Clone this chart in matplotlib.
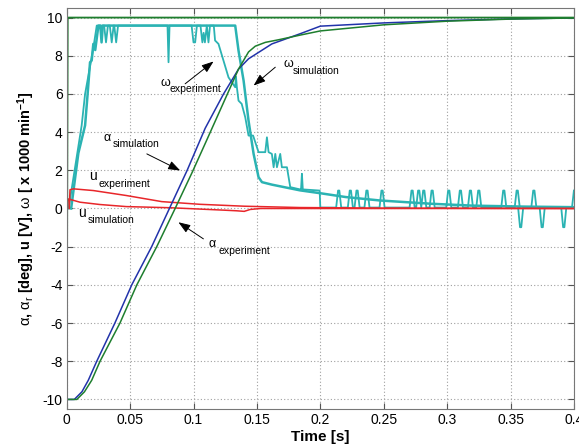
import matplotlib.pyplot as plt

plt.rcParams['font.family'] = ['Liberation Sans', 'DejaVu Sans']
plt.rcParams['axes.unicode_minus'] = False
plt.rcParams['mathtext.fontset'] = 'custom'
plt.rcParams['mathtext.rm'] = 'Liberation Sans'
plt.rcParams['mathtext.bf'] = 'Liberation Sans:bold'
plt.rcParams['mathtext.it'] = 'Liberation Sans:italic'

# reference angle (step)
t_ref = [0, 0.0008, 0.4]
alpha_ref = [-10, 10, 10]

# angle, simulation (blue) and experiment (green)
t_alpha_sim = [0, 0.006, 0.012, 0.017, 0.0237, 0.038, 0.0513, 0.067, 0.081, 0.095, 0.1092,
               0.1237, 0.1355, 0.1434, 0.1618, 0.184, 0.2, 0.25, 0.3, 0.35, 0.4]
alpha_sim = [-10, -10, -9.6, -9.0, -8, -6, -4, -2, 0, 2.0, 4.2,
             6.0, 7.3, 7.84, 8.62, 9.15, 9.55, 9.72, 9.84, 9.93, 9.98]
t_alpha_exp = [0, 0.008, 0.014, 0.0197, 0.0263, 0.042, 0.0553, 0.071, 0.0855, 0.099, 0.1092,
               0.12, 0.1355, 0.1434, 0.1487, 0.1566, 0.168, 0.184, 0.2, 0.25, 0.3, 0.35, 0.4]
alpha_exp = [-10, -10, -9.6, -9, -8, -6, -4, -2, 0, 1.9, 3.4,
             5.0, 7.3, 8.2, 8.5, 8.7, 8.85, 9.08, 9.3, 9.62, 9.81, 9.92, 9.98]

# control voltage
t_u_exp = [0.002, 0.0026, 0.0052, 0.021, 0.047, 0.075, 0.105, 0.14, 0.184, 0.25, 0.4]
u_exp = [0, 0.98, 1.03, 0.94, 0.68, 0.36, 0.22, 0.12, 0.05, 0.02, 0.0]
t_u_sim = [0.0005, 0.0013, 0.0105, 0.026, 0.047, 0.0816, 0.105, 0.125, 0.134, 0.14, 0.1447, 0.153, 0.4]
u_sim = [0, 0.5, 0.33, 0.21, 0.10, 0.04, -0.03, -0.09, -0.12, -0.15, -0.05, 0.0, 0.0]

# speed, quantised measurement
t_w_a = [0.0015, 0.0118, 0.0145, 0.021, 0.0237, 0.0295, 0.031, 0.0325, 0.034, 0.0355, 0.037,
         0.0375, 0.039, 0.0405, 0.0795, 0.0803, 0.0811, 0.0985, 0.1, 0.1013, 0.1027,
         0.1055, 0.107, 0.108, 0.109, 0.1105, 0.1118, 0.113, 0.116, 0.117, 0.1197,
         0.1276, 0.1329, 0.1335, 0.1342, 0.1355, 0.138, 0.1408, 0.1434, 0.147, 0.1513,
         0.1566, 0.1579, 0.1592, 0.1618, 0.1632, 0.1645, 0.1658, 0.1684, 0.1697, 0.1737,
         0.1763, 0.184, 0.1848, 0.1855, 0.1862, 0.1995, 0.2]
w_a = [0, 4.35, 6.0, 8.4, 9.58, 9.58, 8.7, 9.58, 9.58, 8.7, 9.58,
       9.58, 8.7, 9.58, 9.58, 7.66, 9.58, 9.58, 8.7, 8.7, 9.58,
       9.58, 8.7, 9.2, 8.7, 9.58, 8.7, 9.58, 9.58, 8.8, 8.62,
       6.87, 6.35, 6.9, 6.35, 5.65, 5.48, 4.78, 3.82, 3.82, 2.95,
       2.95, 3.73, 2.95, 2.86, 2.16, 2.86, 2.16, 2.86, 2.16, 2.16,
       1.12, 1.0, 1.0, 1.82, 1.0, 0.94, 0.05]
# spikes of the quantised signal after it settles
spike_t = [0.2145, 0.2237, 0.229, 0.2368, 0.2487, 0.2724, 0.2776, 0.2816, 0.2882, 0.3013,
           0.3105, 0.3184, 0.325, 0.3447, 0.3553, 0.358, 0.3684, 0.375, 0.392]
spike_w = [0.94, 0.94, 0.94, 0.94, 0.94, 0.94, 0.94, 0.94, 0.94, 0.94,
           0.94, 0.94, 0.94, 0.94, 0.94, -0.98, 0.94, -0.98, -0.98]

# speed, smoother curve
t_w_b = [0.0035, 0.0092, 0.0145, 0.0165, 0.0184, 0.0197, 0.021, 0.0225, 0.025, 0.0265,
         0.0275, 0.0285, 0.1329, 0.1355, 0.1395, 0.1434, 0.1474, 0.1513, 0.154, 0.1618,
         0.184, 0.2, 0.22, 0.247, 0.287, 0.32, 0.36, 0.4]
w_b = [0, 2.9, 4.35, 6.0, 7.66, 7.75, 8.62, 8.3, 9.58, 9.58,
       8.7, 9.58, 9.58, 8.27, 6.7, 4.6, 2.86, 1.64, 1.38, 1.25,
       0.95, 0.8, 0.6, 0.42, 0.25, 0.15, 0.1, 0.07]

x_ticks = [0, 0.05, 0.1, 0.15, 0.2, 0.25, 0.3, 0.35, 0.4]
x_labels = ['0', '0.05', '0.1', '0.15', '0.2', '0.25', '0.3', '0.35', '0.4']
y_ticks = [-10, -8, -6, -4, -2, 0, 2, 4, 6, 8, 10]

# build the tail of the quantised signal with its spikes
t_tail, w_tail = [0.2], [0.05]
for c, h in zip(spike_t, spike_w):
    t_tail += [c - 0.002, c - 0.0005, c + 0.0005, c + 0.002]
    w_tail += [0.05, h, h, 0.05]
t_tail += [0.3985, 0.4]
w_tail += [0.05, 0.94]

cyan = '#2bb3b3'
fig = plt.figure(figsize=(5.79, 4.48), dpi=100)
ax = fig.add_axes([0.1152, 0.0871, 0.876, 0.895])

ax.plot(t_w_b, w_b, color=cyan, lw=1.8)
ax.plot(t_w_a + t_tail, w_a + w_tail, color=cyan, lw=1.3)
ax.plot(t_u_sim, u_sim, color='#e8262a', lw=1.1)
ax.plot(t_u_exp, u_exp, color='#e8262a', lw=1.1)
ax.plot(t_alpha_sim, alpha_sim, color='#2233aa', lw=1.1)
ax.plot(t_alpha_exp, alpha_exp, color='#1e7e2e', lw=1.1)
ax.plot(t_ref, alpha_ref, color='#1e7e2e', lw=1.3)

ax.set_xlim(0, 0.4)
ax.set_ylim(-10.5, 10.5)
ax.set_xticks(x_ticks)
ax.set_xticklabels(x_labels)
ax.set_yticks(y_ticks)
ax.grid(True, linestyle=(0, (1, 2)), color='#a0a0a0', linewidth=0.8)
ax.tick_params(direction='in', top=True, right=True, length=4, labelsize=10,
               color='#555555', pad=3)
for s in ax.spines.values():
    s.set_color('#777777')


def sub_label(x, y, main, sub, size):
    ax.text(x, y, main, fontsize=size, ha='left', va='baseline')
    ax.annotate(sub, xy=(x, y), xytext=(7, -5), textcoords='offset points',
                fontsize=7.5, ha='left', va='baseline')


arrow = dict(arrowstyle='-|>,head_length=0.6,head_width=0.22', color='black',
             lw=0.7, mutation_scale=12, shrinkA=0, shrinkB=0)

sub_label(0.0737, 6.44, 'ω', 'experiment', 9)
sub_label(0.1708, 7.43, 'ω', 'simulation', 9)
sub_label(0.0289, 3.56, 'α', 'simulation', 9)
sub_label(0.0178, 1.47, 'u', 'experiment', 10)
sub_label(0.0092, -0.42, 'u', 'simulation', 10)
sub_label(0.1118, -2.03, 'α', 'experiment', 9)

ax.annotate('', xy=(0.1158, 7.70), xytext=(0.0934, 6.53), arrowprops=arrow)
ax.annotate('', xy=(0.1474, 6.44), xytext=(0.1645, 7.40), arrowprops=arrow)
ax.annotate('', xy=(0.0895, 1.99), xytext=(0.0632, 2.86), arrowprops=arrow)
ax.annotate('', xy=(0.0881, -0.72), xytext=(0.1078, -1.59), arrowprops=arrow)

fig.text(26 / 579, 1 - 208.5 / 448,
         r'$\mathrm{\alpha}$, $\mathrm{\alpha_r}$ [deg], u [V], $\mathrm{\omega}$ [ x 1000 min$^{\mathbf{-1}}$]',
         rotation=90, ha='center', va='center', fontsize=10.5, fontweight='bold')
fig.text(320 / 579, 1 - 437 / 448, 'Time [s]', ha='center', va='center',
         fontsize=11, fontweight='bold')

fig.savefig('out.png', dpi=100)
